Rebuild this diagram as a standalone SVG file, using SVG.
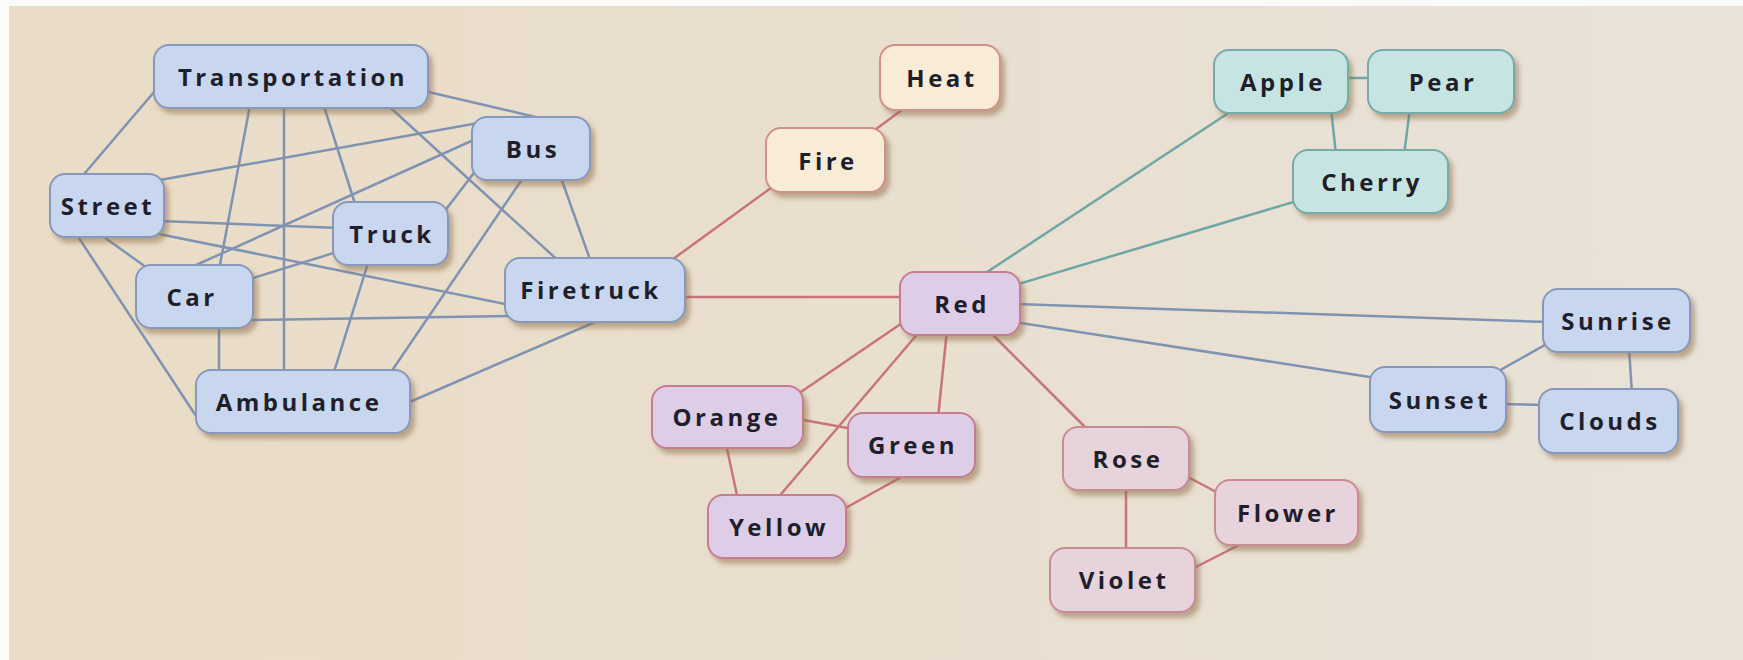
<svg xmlns="http://www.w3.org/2000/svg" width="1743" height="660" viewBox="0 0 1743 660">
<defs>
<linearGradient id="bg" x1="0" y1="0" x2="1" y2="0">
<stop offset="0" stop-color="#eadcc6"/>
<stop offset="0.5" stop-color="#e9dfcf"/>
<stop offset="1" stop-color="#e8e2d8"/>
</linearGradient>
<filter id="sh" x="-20%" y="-30%" width="150%" height="170%">
<feDropShadow dx="4" dy="5" stdDeviation="2.5" flood-color="#8a6840" flood-opacity="0.5"/>
</filter>
</defs>
<style>
.n rect{stroke-width:2;filter:url(#sh)}
.n text{font-family:"Open Sans","DejaVu Sans",sans-serif;font-weight:700;font-size:24px;letter-spacing:3.5px;fill:#1f1f2b;text-anchor:middle}
.blue rect{fill:#c9d6ef;stroke:#8799b9}
.pur rect{fill:#ddcde7;stroke:#c67d90}
.pink rect{fill:#e6d3dc;stroke:#c98b96}
.warm rect{fill:#f9ecd7;stroke:#d0918a}
.teal rect{fill:#c6e4e2;stroke:#76abab}
.e line{stroke-width:2.5;fill:none}
.eb line{stroke:#7f93b2}
.er line{stroke:#c9747c}
.et line{stroke:#6ea7a6}
</style>
<rect x="0" y="0" width="1743" height="660" fill="#fbfbfa"/>
<rect x="9" y="6" width="1734" height="654" fill="url(#bg)"/>
<g id="connectors" class="e">
<g class="eb">
<line x1="160" y1="85" x2="79" y2="180"/>
<line x1="251" y1="100" x2="219" y2="270"/>
<line x1="284" y1="100" x2="284" y2="375"/>
<line x1="322" y1="100" x2="357" y2="210"/>
<line x1="382" y1="100" x2="563" y2="265"/>
<line x1="420" y1="90" x2="557" y2="122"/>
<line x1="160" y1="180" x2="484" y2="122"/>
<line x1="185" y1="270" x2="478" y2="138"/>
<line x1="160" y1="221" x2="340" y2="228"/>
<line x1="97" y1="232" x2="150" y2="270"/>
<line x1="149" y1="232" x2="515" y2="306"/>
<line x1="75" y1="232" x2="200" y2="422"/>
<line x1="444" y1="212" x2="480" y2="165"/>
<line x1="250" y1="279" x2="340" y2="251"/>
<line x1="250" y1="320" x2="515" y2="316"/>
<line x1="219" y1="320" x2="219" y2="375"/>
<line x1="369" y1="260" x2="333" y2="375"/>
<line x1="525" y1="175" x2="389" y2="375"/>
<line x1="560" y1="175" x2="592" y2="265"/>
<line x1="609" y1="316" x2="405" y2="404"/>
<line x1="1015" y1="304" x2="1548" y2="322"/>
<line x1="1015" y1="322" x2="1376" y2="378"/>
<line x1="1495" y1="373" x2="1552" y2="341"/>
<line x1="1629" y1="348" x2="1632" y2="394"/>
<line x1="1500" y1="404" x2="1545" y2="405"/>
</g>
<g class="er">
<line x1="669" y1="262" x2="775" y2="185"/>
<line x1="868" y1="135" x2="910" y2="104"/>
<line x1="680" y1="297" x2="905" y2="297"/>
<line x1="905" y1="321" x2="795" y2="396"/>
<line x1="920" y1="331" x2="776" y2="500"/>
<line x1="947" y1="330" x2="938" y2="418"/>
<line x1="990" y1="332" x2="1090" y2="432"/>
<line x1="798" y1="419" x2="853" y2="429"/>
<line x1="726" y1="444" x2="738" y2="500"/>
<line x1="905" y1="475" x2="840" y2="511"/>
<line x1="1184" y1="475" x2="1222" y2="495"/>
<line x1="1126" y1="485" x2="1126" y2="553"/>
<line x1="1190" y1="570" x2="1245" y2="542"/>
</g>
<g class="et">
<line x1="978" y1="278" x2="1236" y2="108"/>
<line x1="1015" y1="285" x2="1300" y2="200"/>
<line x1="1340" y1="78" x2="1375" y2="78"/>
<line x1="1331" y1="108" x2="1336" y2="155"/>
<line x1="1410" y1="108" x2="1404" y2="155"/>
</g>
</g>
<g id="transportation" class="n blue"><rect x="154" y="45" width="274" height="63" rx="15"/><text x="293" y="86">Transportation</text></g>
<g id="bus" class="n blue"><rect x="472" y="117" width="118" height="63" rx="15"/><text x="533" y="158">Bus</text></g>
<g id="street" class="n blue"><rect x="50" y="174" width="114" height="63" rx="15"/><text x="108" y="215">Street</text></g>
<g id="truck" class="n blue"><rect x="333" y="202" width="115" height="63" rx="15"/><text x="392" y="243">Truck</text></g>
<g id="car" class="n blue"><rect x="136" y="265" width="117" height="63" rx="15"/><text x="192" y="306">Car</text></g>
<g id="firetruck" class="n blue"><rect x="505" y="258" width="180" height="64" rx="15"/><text x="591" y="299">Firetruck</text></g>
<g id="ambulance" class="n blue"><rect x="196" y="370" width="214" height="63" rx="15"/><text x="299" y="411">Ambulance</text></g>
<g id="heat" class="n warm"><rect x="880" y="45" width="120" height="65" rx="15"/><text x="942" y="87">Heat</text></g>
<g id="fire" class="n warm"><rect x="766" y="128" width="119" height="64" rx="15"/><text x="828" y="170">Fire</text></g>
<g id="apple" class="n teal"><rect x="1214" y="50" width="134" height="63" rx="15"/><text x="1283" y="91">Apple</text></g>
<g id="pear" class="n teal"><rect x="1368" y="50" width="146" height="63" rx="15"/><text x="1443" y="91">Pear</text></g>
<g id="cherry" class="n teal"><rect x="1293" y="150" width="155" height="63" rx="15"/><text x="1372" y="191">Cherry</text></g>
<g id="red" class="n pur"><rect x="900" y="272" width="120" height="63" rx="15"/><text x="962" y="313">Red</text></g>
<g id="orange" class="n pur"><rect x="652" y="386" width="151" height="62" rx="15"/><text x="727" y="426">Orange</text></g>
<g id="green" class="n pur"><rect x="848" y="413" width="127" height="64" rx="15"/><text x="913" y="454">Green</text></g>
<g id="yellow" class="n pur"><rect x="708" y="495" width="138" height="63" rx="15"/><text x="779" y="536">Yellow</text></g>
<g id="rose" class="n pink"><rect x="1063" y="427" width="126" height="63" rx="15"/><text x="1128" y="468">Rose</text></g>
<g id="flower" class="n pink"><rect x="1215" y="480" width="143" height="65" rx="15"/><text x="1288" y="522">Flower</text></g>
<g id="violet" class="n pink"><rect x="1050" y="548" width="145" height="64" rx="15"/><text x="1124" y="589">Violet</text></g>
<g id="sunrise" class="n blue"><rect x="1543" y="289" width="147" height="63" rx="15"/><text x="1618" y="330">Sunrise</text></g>
<g id="sunset" class="n blue"><rect x="1370" y="367" width="136" height="65" rx="15"/><text x="1440" y="409">Sunset</text></g>
<g id="clouds" class="n blue"><rect x="1539" y="389" width="139" height="64" rx="15"/><text x="1610" y="430">Clouds</text></g>
</svg>
